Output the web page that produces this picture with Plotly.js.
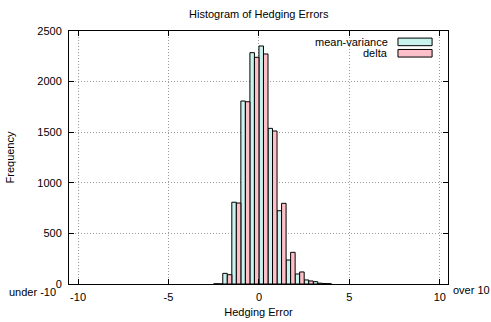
<!DOCTYPE html>
<html>
<head>
<meta charset="utf-8">
<script src="https://cdn.plot.ly/plotly-3.0.1.min.js"></script>
<style>html,body{margin:0;padding:0;background:#fff;}#chart{width:491px;height:322px;}</style>
</head>
<body>
<div id="chart"></div>
<script>
// Bin left edges (bin width 0.5)
const binStart = [-2.5, -2, -1.5, -1, -0.5, 0, 0.5, 1, 1.5, 2, 2.5, 3, 3.5];
const meanVariance = [2, 105, 808, 1808, 2286, 2352, 1538, 724, 237, 99, 40, 23, 5];
const delta = [1, 92, 800, 1801, 2240, 2273, 1512, 797, 313, 119, 30, 8, 3];
const seriesNames = ["mean-variance", "delta"];
const xTicks = [-10, -5, 0, 5, 10];
const yTicks = [0, 500, 1000, 1500, 2000, 2500];

const fnt = {family: "Liberation Sans, Arial, sans-serif", size: 11, color: "#000000"};
const colMV = "#c9f3ee";
const colD = "#ffbfc8";

const traces = [
  {type: "bar", x: binStart, y: meanVariance, offset: 0, width: 0.25, name: seriesNames[0],
   marker: {color: colMV, line: {color: "#000", width: 1}}, showlegend: false},
  {type: "bar", x: binStart, y: delta, offset: 0.25, width: 0.25, name: seriesNames[1],
   marker: {color: colD, line: {color: "#000", width: 1}}, showlegend: false}
];

const layout = {
  width: 491, height: 322,
  margin: {l: 69, r: 43, t: 31, b: 38},
  paper_bgcolor: "#fff", plot_bgcolor: "#fff",
  font: fnt,
  barmode: "overlay",
  title: {text: "Histogram of Hedging Errors", font: fnt, x: 0.527, xanchor: "center", y: 0.957, yanchor: "middle"},
  xaxis: {
    range: [-10.5, 10.45], tickvals: xTicks, ticktext: xTicks.map(String),
    showgrid: true, gridcolor: "#9a9a9a", griddash: "1px,2px", gridwidth: 1,
    zeroline: false, showline: true, linecolor: "#000", linewidth: 1, mirror: "ticks",
    ticks: "inside", ticklen: 5, tickcolor: "#000", ticklabelstandoff: 3,
    title: {text: "Hedging Error", font: fnt, standoff: 6},
    tickfont: fnt
  },
  yaxis: {
    range: [0, 2500], tickvals: yTicks,
    showgrid: true, gridcolor: "#9a9a9a", griddash: "1px,2px", gridwidth: 1,
    zeroline: false, showline: true, linecolor: "#000", linewidth: 1, mirror: "ticks",
    ticks: "inside", ticklen: 5, tickcolor: "#000", ticklabelstandoff: 4,
    title: {text: "Frequency", font: fnt, standoff: 20},
    tickfont: fnt
  },
  annotations: [
    {xref: "paper", yref: "paper", x: -0.03, y: -0.03, xanchor: "right", yanchor: "middle",
     text: "under -10", showarrow: false, font: fnt},
    {xref: "paper", yref: "paper", x: 1.008, y: -0.022, xanchor: "left", yanchor: "middle",
     text: "over 10", showarrow: false, font: fnt},
    {xref: "paper", yref: "paper", x: 0.847, y: 0.957, xanchor: "right", yanchor: "middle",
     text: seriesNames[0], showarrow: false, font: fnt},
    {xref: "paper", yref: "paper", x: 0.847, y: 0.912, xanchor: "right", yanchor: "middle",
     text: seriesNames[1], showarrow: false, font: fnt}
  ],
  shapes: [
    {type: "rect", xref: "paper", yref: "paper", x0: 0.868, x1: 0.958, y0: 0.942, y1: 0.972,
     fillcolor: colMV, line: {color: "#000", width: 1}},
    {type: "rect", xref: "paper", yref: "paper", x0: 0.868, x1: 0.958, y0: 0.897, y1: 0.927,
     fillcolor: colD, line: {color: "#000", width: 1}}
  ]
};

Plotly.newPlot("chart", traces, layout, {displayModeBar: false, staticPlot: true});
</script>
</body>
</html>
